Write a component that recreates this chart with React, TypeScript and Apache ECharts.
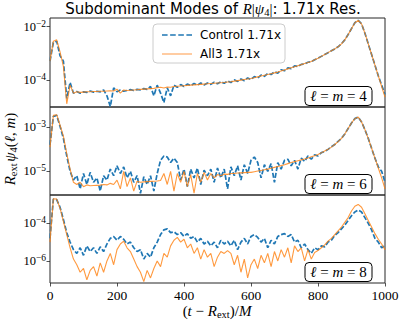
import React, { useEffect, useRef } from "react";
import * as echarts from "echarts";

// time grid (t - R_ext)/M, sampled every 10 M
const times: number[] = Array.from({ length: 101 }, (_, i) => i * 10);

// log10 |R_ext psi4(l,m)|
const control4Log = [
  -3.3, -2.6, -2.55, -3.1, -3.3, -4.7, -4.1, -4.5, -4.44, -4.5,
  -4.45, -4.47, -4.42, -4.46, -4.43, -4.45, -4.38, -4.6, -5.0, -4.3,
  -4.45, -4.38, -4.43, -4.4, -4.37, -4.4, -4.36, -4.38, -4.33, -4.36,
  -4.25, -4.6, -4.2, -4.5, -4.85, -4.3, -4.6, -4.2, -4.28, -4.18,
  -4.25, -4.16, -4.22, -4.14, -4.2, -4.12, -4.19, -4.12, -4.17, -4.09,
  -4.15, -4.07, -4.13, -4.04, -4.1, -4.0, -4.06, -3.97, -4.03, -3.93,
  -3.99, -3.88, -3.93, -3.82, -3.87, -3.76, -3.8, -3.7, -3.75, -3.62,
  -3.66, -3.55, -3.58, -3.48, -3.5, -3.42, -3.41, -3.34, -3.32, -3.25,
  -3.19, -3.12, -3.05, -2.98, -2.91, -2.84, -2.76, -2.65, -2.5, -2.3,
  -2.08, -1.86, -1.77, -1.9, -2.25, -2.65, -3.05, -3.45, -3.85, -4.2,
  -4.55,
];
const all3_4Log = [
  -3.3, -2.55, -2.5, -2.95, -3.5, -4.9, -4.2, -4.5, -4.45, -4.47,
  -4.46, -4.45, -4.45, -4.44, -4.44, -4.43, -4.43, -4.42, -4.41, -4.42,
  -4.35, -4.5, -4.38, -4.4, -4.39, -4.38, -4.37, -4.36, -4.35, -4.34,
  -4.33, -4.32, -4.3, -4.28, -4.31, -4.27, -4.28, -4.25, -4.24, -4.23,
  -4.22, -4.21, -4.2, -4.19, -4.18, -4.17, -4.16, -4.15, -4.14, -4.13,
  -4.12, -4.11, -4.1, -4.08, -4.07, -4.05, -4.03, -4.01, -3.99, -3.97,
  -3.95, -3.92, -3.89, -3.86, -3.83, -3.8, -3.77, -3.74, -3.71, -3.67,
  -3.63, -3.59, -3.55, -3.51, -3.47, -3.43, -3.39, -3.35, -3.31, -3.25,
  -3.19, -3.12, -3.05, -2.98, -2.91, -2.84, -2.76, -2.65, -2.5, -2.3,
  -2.08, -1.86, -1.77, -1.9, -2.25, -2.65, -3.05, -3.45, -3.85, -4.25,
  -4.65,
];
const control6Log = [
  -3.8, -2.5, -2.45, -2.95, -3.5, -4.3, -5.0, -5.4, -5.2, -5.8,
  -5.1, -5.6, -5.05, -5.5, -5.3, -5.9, -5.2, -5.4, -4.9, -5.2,
  -4.75, -5.1, -4.8, -5.3, -5.0, -5.5, -5.2, -6.0, -5.25, -5.6,
  -5.2, -5.9, -5.1, -4.5, -4.3, -4.35, -4.6, -4.4, -4.6, -5.4,
  -4.9, -5.7, -4.9, -5.3, -4.85, -5.6, -4.95, -5.2, -4.9, -5.5,
  -4.85, -5.3, -4.9, -5.8, -4.8, -5.2, -4.75, -5.4, -4.7, -5.1,
  -4.5, -4.35, -4.6, -5.3, -4.7, -5.0, -4.65, -5.5, -4.6, -4.9,
  -4.5, -4.45, -4.75, -4.5, -4.9, -4.4, -4.55, -4.3, -4.45, -4.25,
  -4.3, -4.15, -4.1, -4.0, -3.88, -3.78, -3.64, -3.5, -3.3, -3.05,
  -2.8, -2.6, -2.53, -2.75, -3.1, -3.5, -3.95, -4.4, -4.8, -5.0,
  -5.5,
];
const all3_6Log = [
  -3.9, -2.45, -2.42, -2.9, -3.4, -4.2, -4.9, -5.5, -5.6, -5.5,
  -5.7, -5.62, -5.66, -5.65, -5.64, -5.63, -5.6, -5.62, -5.55, -5.6,
  -5.4, -5.8, -5.0, -5.7, -5.3, -5.9, -5.45, -5.5, -5.48, -5.47,
  -5.46, -5.45, -5.44, -5.42, -5.1, -5.6, -5.0, -5.9, -5.1, -5.5,
  -5.0, -5.7, -5.15, -6.0, -5.1, -5.5, -5.05, -5.4, -5.1, -5.3,
  -5.15, -5.2, -5.13, -5.14, -5.1, -5.1, -5.08, -5.07, -5.06, -5.05,
  -5.05, -5.02, -4.99, -4.96, -4.93, -4.9, -4.86, -4.82, -4.78, -4.74,
  -4.7, -4.65, -4.6, -4.56, -4.52, -4.48, -4.44, -4.39, -4.34, -4.29,
  -4.23, -4.16, -4.08, -4.0, -3.9, -3.78, -3.65, -3.5, -3.3, -3.05,
  -2.8, -2.6, -2.53, -2.75, -3.1, -3.5, -3.95, -4.4, -4.85, -5.3,
  -5.8,
];
const control8Log = [
  -4.8, -2.72, -2.75, -3.15, -3.8, -4.5, -5.0, -5.4, -5.6, -5.3,
  -5.7, -5.2, -5.5, -5.3, -5.6, -5.25, -5.5, -5.1, -4.8, -4.7,
  -4.9, -4.7, -4.85, -5.1, -5.0, -5.3, -5.5, -5.4, -5.9, -5.6,
  -5.8, -5.3, -5.0, -4.6, -4.35, -4.3, -4.5, -4.45, -4.6, -4.5,
  -4.7, -4.55, -4.8, -4.7, -5.0, -4.8, -5.1, -4.95, -5.2, -5.0,
  -5.3, -4.9, -5.1, -4.95, -5.2, -4.9, -5.4, -5.0, -4.8, -5.1,
  -4.7, -4.6, -4.75, -5.0, -4.8, -5.3, -4.9, -5.1, -4.7, -4.6,
  -4.55, -4.7, -4.6, -5.0, -4.9, -5.3, -5.1, -5.4, -5.6, -5.3,
  -5.4, -5.2, -5.25, -5.0, -4.9, -4.65, -4.5, -4.3, -4.1, -3.85,
  -3.6, -3.4, -3.3, -3.4, -3.7, -4.0, -4.35, -4.8, -5.0, -5.3,
  -5.2,
];
const all3_8Log = [
  -5.0, -2.7, -2.72, -3.2, -3.9, -4.6, -5.3, -5.9, -6.2, -6.6,
  -6.4, -7.0, -6.5, -6.3, -6.8, -6.1, -6.6, -6.0, -5.6, -6.2,
  -5.4, -5.1, -4.95, -5.3, -5.5, -5.9, -6.3, -6.6, -7.1, -6.5,
  -6.9, -6.4, -6.0, -6.3, -5.6, -5.8, -5.2, -4.9, -4.75, -5.0,
  -4.85, -5.3, -5.1, -5.6, -5.3, -5.9, -5.4, -5.8, -5.6, -6.3,
  -5.8, -5.5, -5.6, -5.45, -5.6, -6.2, -5.7, -6.6, -5.9, -6.9,
  -6.2, -5.9, -6.4, -5.7, -6.1, -5.6, -6.3, -5.5, -6.0, -5.4,
  -5.8, -5.3, -6.1, -5.2, -5.5, -5.3, -6.0, -5.4, -5.9, -5.55,
  -5.45, -5.3, -5.15, -4.95, -4.8, -4.6, -4.4, -4.2, -3.95, -3.7,
  -3.35, -3.1, -3.0, -3.15, -3.5, -3.85, -4.2, -4.55, -4.85, -5.1,
  -5.4,
];

const xTicks = [0, 200, 400, 600, 800, 1000];
const yTicks4 = [-2, -4];
const yTicks6 = [-3, -5];
const yTicks8 = [-4, -6];
const modeLabels = ["4", "6", "8"];
const seriesNames = ["Control 1.71x", "All3 1.71x"];

const SERIF = "'Liberation Serif', 'DejaVu Serif', serif";
const SANS = "'DejaVu Sans', sans-serif";
const BLUE = "#1f77b4";
const ORANGE = "#ff7f0e";
const FRAME = "#262626";

const GRID_LEFT = 50;
const GRID_RIGHT = 14;
const panels = [
  { top: 18, height: 89, min: -5.02, max: -1.68, ticks: yTicks4, control: control4Log, all3: all3_4Log },
  { top: 107, height: 88, min: -6.08, max: -2.07, ticks: yTicks6, control: control6Log, all3: all3_6Log },
  { top: 195, height: 88, min: -7.17, max: -2.5, ticks: yTicks8, control: control8Log, all3: all3_8Log },
];

const mathRich = {
  i: { fontFamily: SERIF, fontStyle: "italic", fontSize: 15, lineHeight: 18, verticalAlign: "middle", color: "#000" },
  r: { fontFamily: SERIF, fontSize: 15, lineHeight: 18, verticalAlign: "middle", color: "#000" },
  sub: { fontFamily: SERIF, fontSize: 10.5, lineHeight: 10, verticalAlign: "bottom", color: "#000" },
  s: { fontFamily: SANS, fontSize: 15, lineHeight: 18, verticalAlign: "middle", color: "#000" },
  gap: { fontFamily: SERIF, fontSize: 6, lineHeight: 18, verticalAlign: "middle" },
};

const DASH_ICON = "path://M0,0h5.5v1.6h-5.5zM8,0h5.5v1.6h-5.5zM16,0h5.5v1.6h-5.5zM24,0h5.5v1.6h-5.5z";
const SOLID_ICON = "path://M0,0h30v1.3h-30z";

export default function App() {
  const ref = useRef<HTMLDivElement>(null);
  useEffect(() => {
    if (!ref.current) return;
    const chart = echarts.init(ref.current, null, { renderer: "svg" });

    const grids = panels.map((p) => ({
      left: GRID_LEFT,
      right: GRID_RIGHT,
      top: p.top,
      height: p.height,
      show: true,
      borderColor: FRAME,
      borderWidth: 1,
      backgroundColor: "transparent",
      outerBoundsMode: "none",
    }));

    const xAxes = panels.map((p, k) => ({
      type: "value",
      gridIndex: k,
      min: 0,
      max: 1000,
      interval: 200,
      axisLine: { show: false },
      splitLine: { show: false },
      axisTick: {
        show: k === 2,
        length: 3.5,
        lineStyle: { color: FRAME, width: 0.8 },
        customValues: xTicks,
      },
      axisLabel: {
        show: k === 2,
        customValues: xTicks,
        margin: 5,
        fontFamily: SERIF,
        fontSize: 13.5,
        color: "#000",
        formatter: (v: number) => String(v),
      },
    }));

    const yAxes = panels.map((p, k) => ({
      type: "value",
      gridIndex: k,
      min: p.min,
      max: p.max,
      axisLine: { show: false },
      splitLine: { show: false },
      axisTick: {
        show: true,
        length: 3.5,
        lineStyle: { color: FRAME, width: 0.8 },
        customValues: p.ticks,
      },
      axisLabel: {
        show: true,
        customValues: p.ticks,
        margin: 4,
        formatter: (v: number) => `{b|10}{e|\u2212${Math.abs(Math.round(v))}}`,
        rich: {
          b: { fontFamily: SERIF, fontSize: 12.5, lineHeight: 16, verticalAlign: "middle", color: "#000" },
          e: { fontFamily: SERIF, fontSize: 9.5, lineHeight: 8, verticalAlign: "top", color: "#000" },
        },
      },
    }));

    const series: any[] = [];
    panels.forEach((p, k) => {
      series.push({
        type: "line",
        name: seriesNames[0],
        xAxisIndex: k,
        yAxisIndex: k,
        data: times.map((t, i) => [t, p.control[i]]),
        showSymbol: false,
        symbol: "none",
        clip: true,
        itemStyle: { color: BLUE },
        lineStyle: { color: BLUE, width: 1.7, type: [5, 2] },
        z: 2,
      });
      series.push({
        type: "line",
        name: seriesNames[1],
        xAxisIndex: k,
        yAxisIndex: k,
        data: times.map((t, i) => [t, p.all3[i]]),
        showSymbol: false,
        symbol: "none",
        clip: true,
        itemStyle: { color: ORANGE },
        lineStyle: { color: ORANGE, width: 1.1, opacity: 0.8 },
        z: 3,
      });
    });

    const graphics: any[] = [];
    panels.forEach((p, k) => {
      const bottom = p.top + p.height;
      const bx = 305;
      const by = bottom - 20.5;
      graphics.push({
        type: "rect",
        z: 100,
        shape: { x: bx, y: by, width: 67, height: 19, r: 4 },
        style: { fill: "rgba(255,255,255,0.85)", stroke: "#000", lineWidth: 1 },
      });
      graphics.push({
        type: "text",
        z: 101,
        x: bx + 33.5,
        y: by + 9.5,
        style: {
          text: `{i|\u2113}{r| = }{i|m}{r| = ${modeLabels[k]}}`,
          rich: mathRich,
          align: "center",
          verticalAlign: "middle",
        },
      });
    });
    // title
    graphics.push({
      type: "text",
      z: 101,
      x: 213,
      y: 9,
      style: {
        text: `{s|Subdominant Modes of }{i|R}{r||}{i|\u03c8}{sub|4}{r||}{s|: 1.71x Res.}`,
        rich: mathRich,
        align: "center",
        verticalAlign: "middle",
      },
    });
    // y axis title
    graphics.push({
      type: "text",
      z: 101,
      x: 10,
      y: 149,
      rotation: Math.PI / 2,
      style: {
        text: `{i|R}{sub|ext}{gap| }{i|\u03c8}{sub|4}{r|(}{i|\u2113}{r|, }{i|m}{r|)}`,
        rich: mathRich,
        align: "center",
        verticalAlign: "middle",
      },
    });
    // x axis title
    graphics.push({
      type: "text",
      z: 101,
      x: 217,
      y: 311,
      style: {
        text: `{r|(}{i|t}{r| \u2212 }{i|R}{sub|ext}{r|)/}{i|M}`,
        rich: mathRich,
        align: "center",
        verticalAlign: "middle",
      },
    });

    chart.setOption({
      animation: false,
      backgroundColor: "#fff",
      grid: grids,
      xAxis: xAxes,
      yAxis: yAxes,
      legend: {
        show: true,
        orient: "vertical",
        left: 153,
        top: 24,
        data: [
          { name: seriesNames[0], icon: DASH_ICON, itemStyle: { color: BLUE } },
          { name: seriesNames[1], icon: SOLID_ICON, itemStyle: { color: "#ffb070" } },
        ],
        itemWidth: 30,
        itemHeight: 14,
        itemGap: 7,
        padding: [5, 4, 3, 9],
        backgroundColor: "rgba(255,255,255,0.8)",
        borderColor: "#cccccc",
        borderWidth: 1,
        borderRadius: 4,
        selectedMode: false,
        textStyle: { fontFamily: SANS, fontSize: 12, color: "#000", padding: [0, 0, 0, 3] },
      },
      series,
      graphic: graphics,
    });
    return () => chart.dispose();
  }, []);
  return (
    <div
      ref={ref}
      style={{ position: "fixed", left: 0, top: 0, width: 399, height: 320 }}
    />
  );
}
